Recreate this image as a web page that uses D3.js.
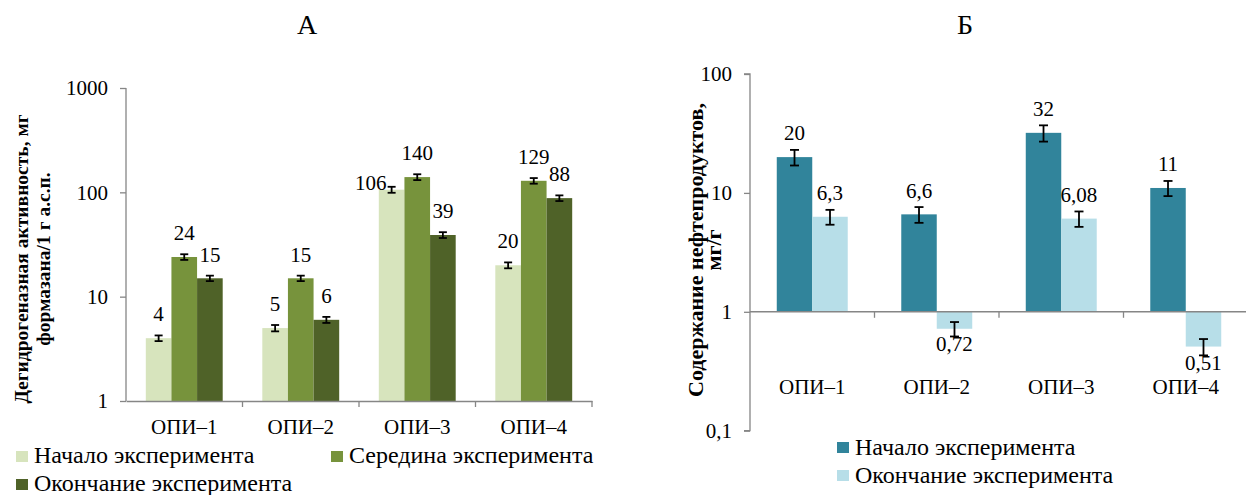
<!DOCTYPE html>
<html>
<head>
<meta charset="utf-8">
<script src="https://cdn.jsdelivr.net/npm/d3@7"></script>
<style>
  html, body { margin: 0; padding: 0; background: #fff; }
  svg { display: block; }
  svg text { font-family: "Liberation Serif", "Tinos", "DejaVu Serif", serif !important; fill: #000; }
</style>
</head>
<body>
<svg id="chart" width="1246" height="495"></svg>
<script>
// ---- Panel А: dehydrogenase activity ----
const catsA = ["ОПИ–1", "ОПИ–2", "ОПИ–3", "ОПИ–4"];
const seriesA = ["Начало эксперимента", "Середина эксперимента", "Окончание эксперимента"];
const startA = [4, 5, 106, 20];
const middleA = [24, 15, 140, 129];
const endA = [15, 6, 39, 88];
const startErrA = [0.25, 0.35, 7, 1.3];
const middleErrA = [1.5, 0.9, 9, 8];
const endErrA = [0.9, 0.4, 2.5, 5.5];
const ticksA = [1, 10, 100, 1000];
const colorsA = ["#d7e4bd", "#77933c", "#4f6228"];

// ---- Panel Б: petroleum products content ----
const catsB = ["ОПИ–1", "ОПИ–2", "ОПИ–3", "ОПИ–4"];
const seriesB = ["Начало эксперимента", "Окончание эксперимента"];
const startB = [20, 6.6, 32, 11];
const endB = [6.3, 0.72, 6.08, 0.51];
const startErrB = [3, 1.0, 5, 1.6];
const endErrB = [0.9, 0.1, 0.9, 0.08];
const labelsB = [["20", "6,6", "32", "11"], ["6,3", "0,72", "6,08", "0,51"]];
const ticksB = [0.1, 1, 10, 100];
const tickLabelsB = ["0,1", "1", "10", "100"];
const colorsB = ["#31849b", "#b7dee8"];

const svg = d3.select("#chart");
const axisColor = "#868686";
const fs = 21;      // tick, category and value labels
const legFs = 24;   // legend entries

function drawErr(g, x, y1, y2, cap) {
  g.append("line").attr("x1", x).attr("x2", x).attr("y1", y1).attr("y2", y2)
    .attr("stroke", "#000").attr("stroke-width", 1.8);
  [y1, y2].forEach(yy => g.append("line")
    .attr("x1", x - cap / 2).attr("x2", x + cap / 2).attr("y1", yy).attr("y2", yy)
    .attr("stroke", "#000").attr("stroke-width", 1.8));
}

// ================= Panel А =================
{
  const g = svg.append("g");
  const y = d3.scaleLog().domain([1, 1000]).range([401, 88]);
  const x = d3.scaleBand().domain(catsA).range([126, 592]).paddingInner(0.34).paddingOuter(0.17);
  const xs = d3.scaleBand().domain(d3.range(seriesA.length)).range([0, x.bandwidth()]);
  const vals = [startA, middleA, endA];
  const errs = [startErrA, middleErrA, endErrA];

  // bars
  vals.forEach((arr, s) => {
    g.selectAll(null).data(arr).join("rect")
      .attr("x", (d, i) => x(catsA[i]) + xs(s))
      .attr("width", xs.bandwidth())
      .attr("y", d => y(d))
      .attr("height", d => y(1) - y(d))
      .attr("fill", colorsA[s]);
  });

  // axes
  const yAxis = g.append("g").attr("transform", "translate(126,0)")
    .call(d3.axisLeft(y).tickValues(ticksA).tickFormat(d3.format("d")).tickSize(6).tickPadding(12));
  const xAxis = g.append("g").attr("transform", `translate(0,${y(1)})`)
    .call(d3.axisBottom(x).tickSize(0).tickFormat(""));
  [yAxis, xAxis].forEach(a => {
    a.select(".domain").attr("stroke", axisColor).attr("stroke-width", 1.3);
    a.selectAll(".tick line").attr("stroke", axisColor).attr("stroke-width", 1.3);
    a.selectAll("text").attr("font-size", fs).attr("fill", "#000");
  });
  yAxis.select(".domain").attr("d", `M0,${y(1000)}V${y(1)}`);
  // category boundary ticks
  const bounds = catsA.map(c => x(c) - x.step() * x.paddingInner() / 2).concat([592]);
  g.selectAll(null).data(bounds.slice(1)).join("line")
    .attr("x1", d => d).attr("x2", d => d).attr("y1", y(1)).attr("y2", y(1) + 6)
    .attr("stroke", axisColor).attr("stroke-width", 1.3);
  // category labels
  g.selectAll(null).data(catsA).join("text")
    .attr("x", d => x(d) + x.bandwidth() / 2).attr("y", 434)
    .attr("text-anchor", "middle").attr("font-size", fs).text(d => d);

  // error bars and value labels
  vals.forEach((arr, s) => {
    arr.forEach((v, i) => {
      const cx = x(catsA[i]) + xs(s) + xs.bandwidth() / 2;
      const e = errs[s][i];
      drawErr(g, cx, y(v + e), y(v - e), 8);
      const t = g.append("text").attr("font-size", fs).text(d3.format("d")(v));
      if (s === 0 && i === 2) {
        // label sits beside the bar, left of the error cap
        t.attr("x", cx - 5).attr("y", y(v)).attr("text-anchor", "end");
      } else {
        t.attr("x", cx).attr("y", y(v + e) - 14).attr("text-anchor", "middle");
      }
    });
  });

  // axis title
  const tt = g.append("text").attr("transform", "translate(28,259) rotate(-90)")
    .attr("text-anchor", "middle").attr("font-weight", "bold").attr("font-size", 19.5);
  tt.append("tspan").attr("x", 0).attr("y", 0).text("Дегидрогеназная активность, мг");
  tt.append("tspan").attr("x", 0).attr("y", 22).text("формазана/1 г а.с.п.");

  // panel letter
  g.append("text").attr("x", 307).attr("y", 34).attr("text-anchor", "middle")
    .attr("font-size", 28).text("А");

  // legend
  const leg = [[16, 463], [331, 463], [16, 491]];
  seriesA.forEach((name, s) => {
    g.append("rect").attr("x", leg[s][0]).attr("y", leg[s][1] - 12).attr("width", 12).attr("height", 11)
      .attr("fill", colorsA[s]);
    g.append("text").attr("x", leg[s][0] + 18).attr("y", leg[s][1])
      .attr("font-size", legFs).text(name);
  });
}

// ================= Panel Б =================
{
  const g = svg.append("g");
  const y = d3.scaleLog().domain([0.1, 100]).range([430.7, 74]);
  const x = d3.scaleBand().domain(catsB).range([750, 1248]).paddingInner(0.43).paddingOuter(0.215);
  const xs = d3.scaleBand().domain(d3.range(seriesB.length)).range([0, x.bandwidth()]);
  const vals = [startB, endB];
  const errs = [startErrB, endErrB];

  vals.forEach((arr, s) => {
    g.selectAll(null).data(arr).join("rect")
      .attr("x", (d, i) => x(catsB[i]) + xs(s))
      .attr("width", xs.bandwidth())
      .attr("y", d => Math.min(y(d), y(1)))
      .attr("height", d => Math.abs(y(1) - y(d)))
      .attr("fill", colorsB[s]);
  });

  const yAxis = g.append("g").attr("transform", "translate(750,0)")
    .call(d3.axisLeft(y).tickValues(ticksB).tickFormat((d, i) => tickLabelsB[i]).tickSize(6).tickPadding(12));
  yAxis.select(".domain").attr("d", `M-6,${y(0.1)}H0V${y(100)}H-6`).attr("fill", "none");
  yAxis.select(".domain").attr("stroke", axisColor).attr("stroke-width", 1.3);
  yAxis.selectAll(".tick line").attr("stroke", axisColor).attr("stroke-width", 1.3);
  yAxis.selectAll("text").attr("font-size", fs).attr("fill", "#000");

  // horizontal axis crosses at 1
  g.append("line").attr("x1", 750).attr("x2", 1246).attr("y1", y(1)).attr("y2", y(1))
    .attr("stroke", axisColor).attr("stroke-width", 1.6);
  const bounds = catsB.slice(1).map(c => x(c) - x.step() * x.paddingInner() / 2);
  g.selectAll(null).data(bounds).join("line")
    .attr("x1", d => d).attr("x2", d => d).attr("y1", y(1)).attr("y2", y(1) + 6)
    .attr("stroke", axisColor).attr("stroke-width", 1.3);
  g.selectAll(null).data(catsB).join("text")
    .attr("x", d => x(d) + x.bandwidth() / 2).attr("y", 393.5)
    .attr("text-anchor", "middle").attr("font-size", fs).text(d => d);

  vals.forEach((arr, s) => {
    arr.forEach((v, i) => {
      const cx = x(catsB[i]) + xs(s) + xs.bandwidth() / 2;
      const e = errs[s][i];
      drawErr(g, cx, y(v + e), y(v - e), 9);
      const t = g.append("text").attr("x", cx).attr("text-anchor", "middle")
        .attr("font-size", fs).text(labelsB[s][i]);
      if (v >= 1) t.attr("y", y(v + e) - 9.5);
      else t.attr("y", y(v - e) + 14.5);
    });
  });

  const tt = g.append("text").attr("transform", "translate(703,250) rotate(-90)")
    .attr("text-anchor", "middle").attr("font-weight", "bold").attr("font-size", 22);
  tt.append("tspan").attr("x", 0).attr("y", 0).text("Содержание нефтепродуктов,");
  tt.append("tspan").attr("x", 0).attr("y", 18).text("мг/г");

  g.append("text").attr("x", 965).attr("y", 34).attr("text-anchor", "middle")
    .attr("font-size", 28).text("Б");

  const leg = [[837, 455], [837, 483]];
  seriesB.forEach((name, s) => {
    g.append("rect").attr("x", leg[s][0]).attr("y", leg[s][1] - 13).attr("width", 12).attr("height", 11)
      .attr("fill", colorsB[s]);
    g.append("text").attr("x", leg[s][0] + 18).attr("y", leg[s][1])
      .attr("font-size", legFs).text(name);
  });
}
</script>
</body>
</html>
